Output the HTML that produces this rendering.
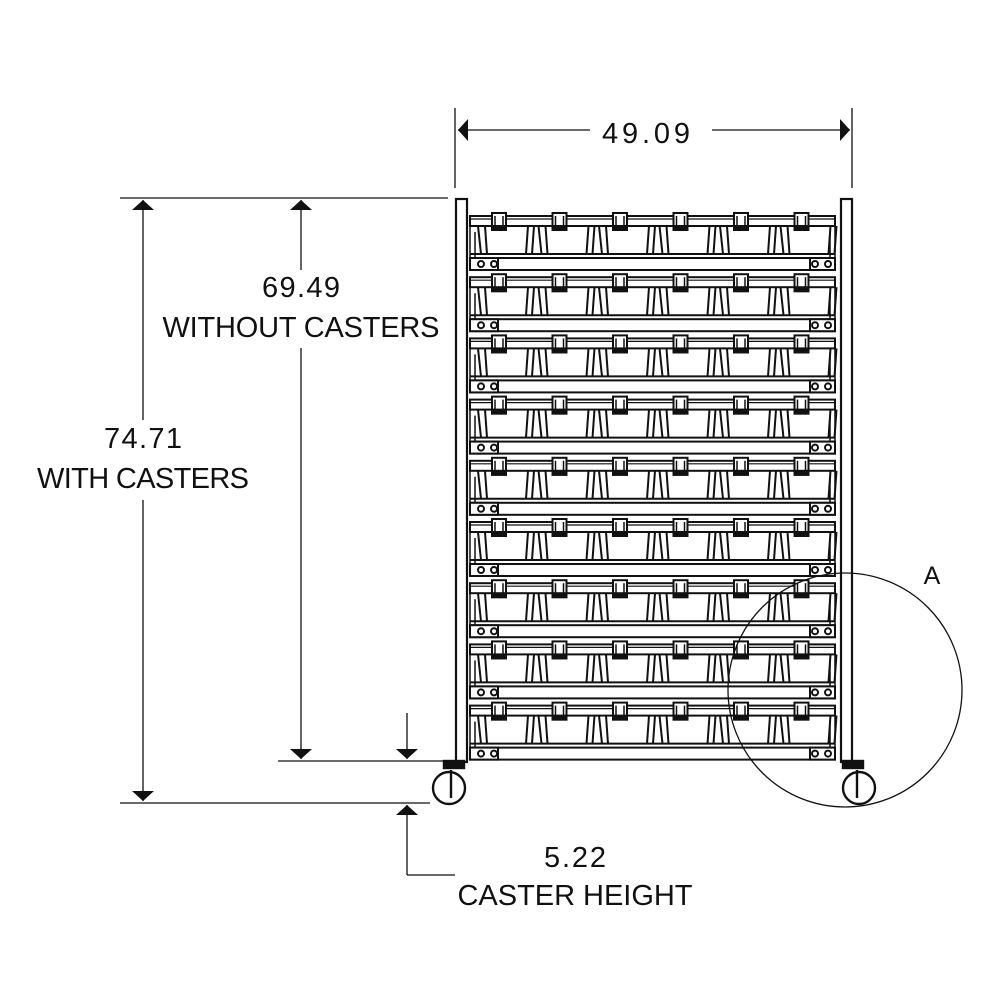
<!DOCTYPE html>
<html><head><meta charset="utf-8"><style>
html,body{margin:0;padding:0;background:#fff;width:1000px;height:1000px;overflow:hidden}
svg{display:block}
text{font-family:"Liberation Sans",sans-serif;fill:#111}
</style></head><body>
<svg id="s" width="1000" height="1000" viewBox="0 0 1000 1000" xmlns="http://www.w3.org/2000/svg">
<defs>
<marker id="ar" viewBox="0 0 10 10" refX="10" refY="5" markerWidth="10" markerHeight="22" markerUnits="userSpaceOnUse" orient="auto-start-reverse" preserveAspectRatio="none"><path d="M0,0 L10,5 L0,10 z" fill="#111"/></marker>
</defs>
<g stroke="#111" fill="none" stroke-width="1.3">
<line x1="455" y1="108" x2="455" y2="188"/>
<line x1="852" y1="108" x2="852" y2="188"/>
<line x1="458" y1="130" x2="590" y2="130" marker-start="url(#ar)"/>
<line x1="712" y1="130" x2="850" y2="130" marker-end="url(#ar)"/>
<line x1="120" y1="198" x2="448" y2="198"/>
<line x1="120" y1="803" x2="430" y2="803"/>
<line x1="278" y1="761" x2="445" y2="761"/>
<line x1="143" y1="200" x2="143" y2="420" marker-start="url(#ar)"/>
<line x1="143" y1="500" x2="143" y2="801" marker-end="url(#ar)"/>
<line x1="301" y1="200" x2="301" y2="270" marker-start="url(#ar)"/>
<line x1="301" y1="348" x2="301" y2="759" marker-end="url(#ar)"/>
<line x1="407" y1="713" x2="407" y2="759" marker-end="url(#ar)"/>
<line x1="407" y1="875" x2="407" y2="805" marker-end="url(#ar)"/>
<line x1="407" y1="875" x2="455" y2="875"/>
</g>
<g stroke="#111" fill="#fff" stroke-width="2.2">
<rect x="456" y="199" width="11" height="563"/>
<rect x="841" y="199" width="11" height="563"/>
</g>
<g stroke="#111" fill="none" stroke-width="2.4">
<rect x="444" y="761" width="20" height="7" fill="#111"/>
<circle cx="449" cy="788" r="16"/>
<line x1="451" y1="770" x2="451" y2="798"/>
<rect x="843" y="761" width="20" height="7" fill="#111"/>
<circle cx="859" cy="788" r="16"/>
<line x1="857" y1="770" x2="857" y2="798"/>
</g>
<text x="646" y="143" font-size="29" text-anchor="middle" textLength="88" lengthAdjust="spacing">49.09</text>
<text x="301" y="297" font-size="29" text-anchor="middle" textLength="78" lengthAdjust="spacing">69.49</text>
<text x="301" y="337" font-size="29" text-anchor="middle" textLength="277" lengthAdjust="spacing">WITHOUT CASTERS</text>
<text x="143" y="448" font-size="29" text-anchor="middle" textLength="78" lengthAdjust="spacing">74.71</text>
<text x="143" y="488" font-size="29" text-anchor="middle" textLength="212" lengthAdjust="spacing">WITH CASTERS</text>
<text x="575" y="867" font-size="29" text-anchor="middle" textLength="62" lengthAdjust="spacing">5.22</text>
<text x="575" y="905" font-size="29" text-anchor="middle" textLength="235" lengthAdjust="spacing">CASTER HEIGHT</text>
<text x="932" y="584" font-size="25" text-anchor="middle">A</text>
</svg>
<script>
var s=document.getElementById('s'),NS='http://www.w3.org/2000/svg';
function el(t,a){var e=document.createElementNS(NS,t);for(var k in a)e.setAttribute(k,a[k]);s.appendChild(e);return e;}
var base={stroke:'#111','stroke-width':2,fill:'none'};
function L(x1,y1,x2,y2,w){var a=Object.assign({},base,{x1:x1,y1:y1,x2:x2,y2:y2});if(w)a['stroke-width']=w;el('line',a);}
function R(x,y,w,h,f){el('rect',Object.assign({},base,{x:x,y:y,width:w,height:h,fill:f||'none'}));}
for(var i=0;i<9;i++){
 var y=212+i*61.2;
 R(470,y+4,365,10,'#fff');
 L(470,y+7,835,y+7,1.2);
 for(var b=0;b<6;b++){
  var x=478+b*60.5;
  L(x,y+14,x+3,y+42);L(x+7,y+14,x+9,y+42);
  L(x+50,y+14,x+48,y+42);L(x+56,y+14,x+54,y+42);
  R(x+14,y+1,14,17,'#fff');L(x+17,y+4,x+17,y+16,1.5);L(x+25,y+4,x+25,y+16,1.5);
  R(x+14,y+14,14,4,'#111');
 }
 L(470,y+42,835,y+42);
 R(470,y+46,365,12,'#fff');
 R(470,y+46,28,12,'#fff');R(810,y+46,25,12,'#fff');
 el('circle',Object.assign({},base,{cx:481,cy:y+52,r:3}));
 el('circle',Object.assign({},base,{cx:494,cy:y+52,r:3}));
 el('circle',Object.assign({},base,{cx:815,cy:y+52,r:3}));
 el('circle',Object.assign({},base,{cx:828,cy:y+52,r:3}));
 L(470,y+14,470,y+46,1.5);L(475,y+20,475,y+46,1.5);
 L(835,y+14,835,y+46,1.5);L(830,y+20,830,y+46,1.5);
}
el('circle',{cx:845,cy:690,r:117,stroke:'#111','stroke-width':1.3,fill:'none'});
</script>
</body></html>
